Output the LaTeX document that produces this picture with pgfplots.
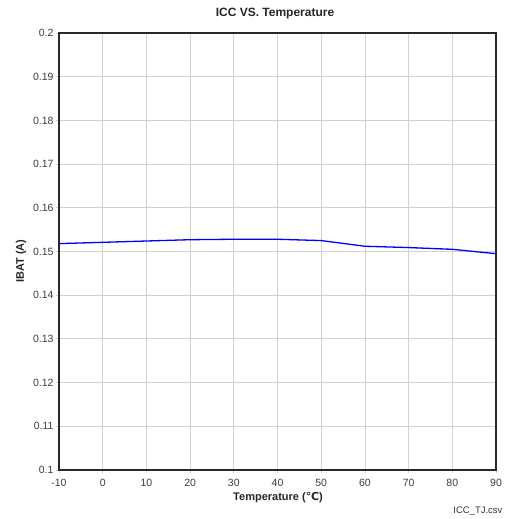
\documentclass[border=0pt]{standalone}
\usepackage{fontspec}
\setmainfont{Liberation Sans}
\newfontfamily\symfont{DejaVu Sans}
\usepackage{pgfplots}
\pgfplotsset{compat=1.18}
\definecolor{framegray}{RGB}{40,40,40}
\definecolor{gridgray}{RGB}{210,210,210}
\definecolor{ticktext}{RGB}{60,60,60}
\begin{document}
\begin{tikzpicture}
\useasboundingbox (0pt,0pt) rectangle (510pt,519pt);
\begin{axis}[
    at={(59pt,49pt)}, anchor=south west,
    scale only axis,
    width=437pt, height=437pt,
    xmin=-10, xmax=90, ymin=0.1, ymax=0.2,
    xtick={-10,0,...,90},
    ytick={0.1,0.11,...,0.2},
    yticklabels={0.1,0.11,0.12,0.13,0.14,0.15,0.16,0.17,0.18,0.19,0.2},
    grid=major,
    major grid style={gridgray, line width=0.8pt},
    axis line style={framegray, line width=1.3pt},
    tick align=outside,
    major tick length=3pt,
    tick style={gridgray, line width=0.8pt},
    xtick pos=bottom, ytick pos=left,
    ticklabel style={font=\fontsize{10.5}{12}\selectfont, text=ticktext},
    xticklabel style={yshift=-3pt},
    yticklabel style={xshift=1pt},
    /pgf/number format/assume math mode=true,
    y tick label style={/pgf/number format/fixed},
]
\addplot[blue, line width=1.3pt] coordinates {
(-10,0.1518) (0,0.1521) (10,0.1524) (20,0.1527) (30,0.1528)
(40,0.1528) (50,0.1525) (60,0.1512) (70,0.1509) (80,0.1505) (90,0.1495)
};
\end{axis}
\node[font=\bfseries\fontsize{12}{14}\selectfont, text=black!85] at (275pt,505pt) {ICC VS. Temperature};
\node[font=\bfseries\fontsize{11}{13}\selectfont, text=black!85, rotate=90] at (21pt,258pt) {IBAT (A)};
\node[font=\bfseries\fontsize{11}{13}\selectfont, text=black!85] at (278pt,21pt) {Temperature ({\symfont ℃})};
\node[font=\fontsize{9.5}{11}\selectfont, text=black!80, anchor=east] at (506pt,8pt) {ICC\_TJ.csv};
\end{tikzpicture}
\end{document}
